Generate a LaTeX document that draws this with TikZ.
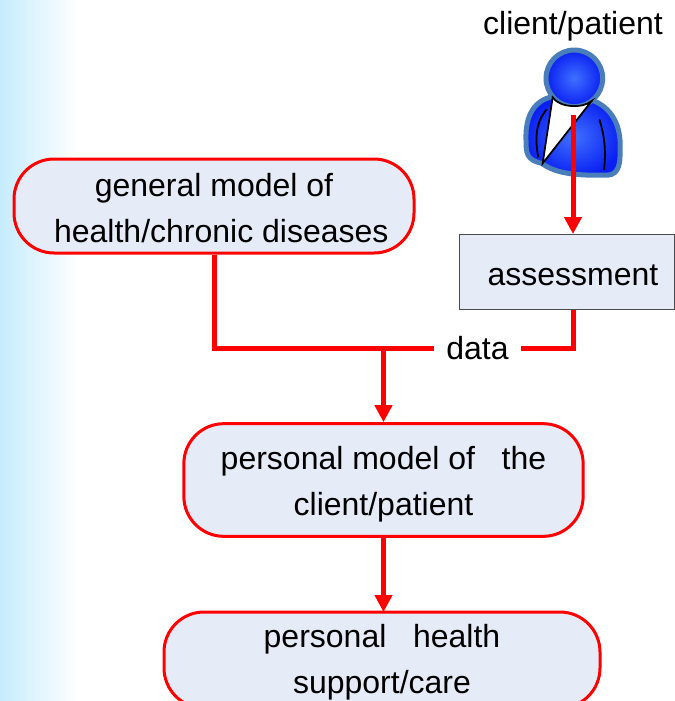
\documentclass[tikz,border=0pt]{standalone}
\usepackage{fontspec}
\setmainfont{Liberation Sans}
\usetikzlibrary{arrows.meta}
\definecolor{boxfill}{HTML}{E6ECF7}
\definecolor{sideblue}{HTML}{C6ECFC}
\definecolor{personedge}{HTML}{4A7EBB}
\definecolor{personin}{HTML}{3F70FF}
\definecolor{personout}{HTML}{0A20F2}
\newcommand{\downby}[1]{\rule{0pt}{#1}}
\tikzset{
	modelbox/.style={draw=red,line width=2.25pt,fill=boxfill,rounded corners=30pt,align=center,inner sep=0pt},
	plainbox/.style={draw=black!70,line width=0.75pt,fill=boxfill,inner sep=0pt},
	link/.style={draw=red,line width=3.75pt},
	linkarrow/.style={link,-{Triangle[width=12.75pt,length=12.75pt]}},
	every node/.style={font=\fontsize{24}{34.5}\selectfont,text=black}
}
\begin{document}
\begin{tikzpicture}[x=0.75pt,y=-0.75pt]
	\clip (0,0) rectangle (675,701);
	\fill[left color=sideblue,right color=white] (0,0) rectangle (78,701);

	% client figure
	\begin{scope}[shift={(470,0)},x=0.25pt,y=-0.25pt]
		\draw[draw=personedge,line width=3.75pt,shading=radial,inner color=personin,outer color=personout]
			(248,290) .. controls (195,300) and (165,345) .. (168,420)
			.. controls (168,460) and (170,480) .. (215,490)
			.. controls (250,515) and (300,528) .. (400,525)
			.. controls (440,530) and (452,505) .. (450,450)
			.. controls (455,370) and (420,320) .. (365,300) -- cycle;
		\draw[draw=personedge,line width=3.75pt,shading=radial,inner color=personin,outer color=personout]
			(313,235) circle (85);
		\draw[fill=white,line width=1.3pt] (248,292) .. controls (270,325) and (340,325) .. (365,303) -- (218,490) -- cycle;
		\draw[line width=1.3pt] (230,328) .. controls (195,370) and (195,420) .. (205,472);
		\draw[line width=1.3pt] (388,358) .. controls (405,410) and (408,460) .. (402,510);
	\end{scope}

	\node (client) at (573,26) {client/patient};
	\node[plainbox,minimum width=161pt,minimum height=56.5pt] (assess) at (567,272) {\downby{20.5pt}\hspace*{9pt}assessment};
	\node[modelbox,minimum width=300pt,minimum height=70.5pt] (general) at (214,206)
		{\downby{20.5pt}general model of\\\hspace*{11pt}health/chronic diseases};
	\node[modelbox,minimum width=299.5pt,minimum height=84.5pt] (personal) at (383.5,480)
		{\downby{23.5pt}personal model of \ \ the\\client/patient};
	\node[modelbox,minimum width=327pt,minimum height=72pt] (care) at (382,660)
		{\downby{20.5pt}personal \ \ health\\support/care};
	\node[inner sep=0pt,minimum width=65pt,minimum height=20pt] (data) at (477.5,348) {data};

	\coordinate (personbot) at (573,115);
	\coordinate (assesstop) at (573,234);
	\coordinate (assessbot) at (573,310);
	\coordinate (merge) at (383.5,348);
	\coordinate (caretop) at (383.5,612);

	\draw[linkarrow] (personbot) -- (assesstop);
	\draw[link] (general.south) |- (data.west);
	\draw[link] (assessbot) |- (data.east);
	\draw[linkarrow] (merge) -- (personal.north);
	\draw[linkarrow] (personal.south) -- (caretop);
\end{tikzpicture}
\end{document}
